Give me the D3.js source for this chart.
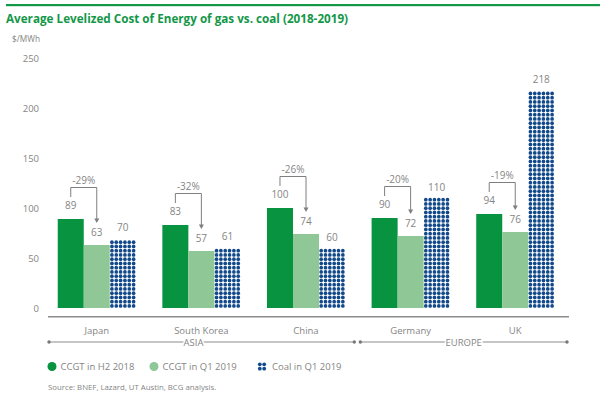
<!DOCTYPE html>
<html><head><meta charset="utf-8">
<script src="https://cdn.jsdelivr.net/npm/d3@7"></script>
<style>
body{margin:0;background:#fff;}
svg{display:block;font-family:"Open Sans",sans-serif;}
</style></head>
<body><svg id="c" width="600" height="399"></svg>
<script>
const countries = ["Japan","South Korea","China","Germany","UK"];
const series = ["CCGT in H2 2018","CCGT in Q1 2019","Coal in Q1 2019"];
const ccgtH2 = [89, 83, 100, 90, 94];
const ccgtQ1 = [63, 57, 74, 72, 76];
const coalQ1 = [70, 61, 60, 110, 218];
const changes = ["-29%","-32%","-26%","-20%","-19%"];
const yTicks = [0, 50, 100, 150, 200, 250];
const regions = [{name:"ASIA", members:["Japan","South Korea","China"]},{name:"EUROPE", members:["Germany","UK"]}];

const C = {dark:"#07933f", light:"#8fc796", navy:"#12498a", text:"#858585", title:"#139748", line:"#7f7f7f"};
const svg = d3.select("#c");

// top rule and title
svg.append("rect").attr("x",6).attr("y",4).attr("width",594).attr("height",2.2).attr("fill",C.title);
svg.append("text").attr("x",6).attr("y",23).attr("fill",C.title)
  .attr("font-size",12.6).attr("font-weight",700).attr("id","title")
  .text("Average Levelized Cost of Energy of gas vs. coal (2018-2019)");
svg.append("text").attr("x",12).attr("y",42).attr("fill",C.text).attr("font-size",8.3)
  .text("$/MWh");

const x = d3.scaleBand().domain(countries).range([48,564]).paddingInner(0.254).paddingOuter(0.093);
const xs = d3.scaleBand().domain(series).range([0, x.bandwidth()]);
const y = d3.scaleLinear().domain([0,250]).range([308,58]);

// y labels
svg.append("g").selectAll("text").data(yTicks).join("text")
  .attr("x",39).attr("y",d=>y(d)+3.5).attr("text-anchor","end")
  .attr("font-size",9.5).attr("fill",C.text).text(d=>d);

const data = countries.map((c,i)=>({c, v:[ccgtH2[i], ccgtQ1[i], coalQ1[i]], ch:changes[i]}));

const g = svg.append("g");
const grp = g.selectAll("g.grp").data(data).join("g").attr("class","grp")
  .attr("transform",d=>`translate(${x(d.c)},0)`);

grp.append("rect").attr("x",xs(series[0])).attr("width",xs.bandwidth())
  .attr("y",d=>y(d.v[0])).attr("height",d=>y(0)-y(d.v[0])).attr("fill",C.dark);
grp.append("rect").attr("x",xs(series[1])).attr("width",xs.bandwidth())
  .attr("y",d=>y(d.v[1])).attr("height",d=>y(0)-y(d.v[1])).attr("fill",C.light);

// coal dot grid
const cols = 6, rowStep = 4.25;
grp.each(function(d){
  const bx = xs(series[2]), bw = xs.bandwidth();
  const colStep = bw/cols;
  const top = y(d.v[2]);
  const dots = [];
  for (let yy = y(0) - rowStep/2; yy >= top + 1; yy -= rowStep) {
    for (let k=0;k<cols;k++) dots.push([bx + colStep*(k+0.5), yy]);
  }
  d3.select(this).append("g").selectAll("circle").data(dots).join("circle")
    .attr("cx",p=>p[0]).attr("cy",p=>p[1]).attr("r",1.85).attr("fill",C.navy);
});

// value labels
const off = [10, 9, 7];
series.forEach((s,si)=>{
  grp.append("text").attr("x",xs(s)+xs.bandwidth()/2).attr("y",d=>y(d.v[si])-off[si])
    .attr("text-anchor","middle").attr("font-size",10).attr("fill",C.text).text(d=>d.v[si]);
});

// brackets
grp.each(function(d){
  const x0 = xs(series[0])+xs.bandwidth()/2, x1 = xs(series[1])+xs.bandwidth()/2;
  const hy = y(d.v[0]) - 31.5, ly = y(d.v[0]) - 22, ty = y(d.v[1]) - 22;
  const s = d3.select(this);
  s.append("path").attr("d",`M${x0},${ly}V${hy}H${x1}V${ty-4}`)
    .attr("fill","none").attr("stroke",C.line).attr("stroke-width",1);
  s.append("path").attr("d",`M${x1-2.5},${ty-4.5}L${x1+2.5},${ty-4.5}L${x1},${ty}Z`).attr("fill",C.line);
  s.append("text").attr("x",(x0+x1)/2).attr("y",hy-4).attr("text-anchor","middle")
    .attr("font-size",10).attr("fill",C.text).text(d.ch);
});

// x axis line
svg.append("line").attr("x1",48).attr("x2",569).attr("y1",316.8).attr("y2",316.8)
  .attr("stroke","#8c8c8c").attr("stroke-width",1.5);
svg.append("g").selectAll("text").data(countries).join("text")
  .attr("x",d=>x(d)+x.bandwidth()/2).attr("y",333.5).attr("text-anchor","middle")
  .attr("font-size",9.5).attr("fill",C.text).text(d=>d);

// region lines
const mid = (x("China")+x.bandwidth()+x("Germany"))/2;
const regSpan = [[49, mid-4],[mid+2, 567]];
regions.forEach((r,i)=>{
  const [a,b] = regSpan[i];
  const gy = 342;
  svg.append("line").attr("x1",a).attr("x2",b).attr("y1",gy).attr("y2",gy).attr("stroke","#8c8c8c").attr("stroke-width",1);
  svg.append("circle").attr("cx",a).attr("cy",gy).attr("r",1.7).attr("fill","#777");
  svg.append("circle").attr("cx",b).attr("cy",gy).attr("r",1.7).attr("fill","#777");
  const cx = i===0 ? 193.5 : (a+b)/2;
  svg.append("text").attr("x",cx).attr("y",gy+3.5).attr("text-anchor","middle")
    .attr("font-size",9.5).attr("fill",C.text)
    .attr("stroke","#fff").attr("stroke-width",3).attr("paint-order","stroke").text(r.name);
});

// legend
const lg = svg.append("g").attr("transform","translate(0,366.5)");
const lx = [52, 154, 262];
lg.append("circle").attr("cx",lx[0]).attr("cy",0).attr("r",4.5).attr("fill",C.dark);
lg.append("circle").attr("cx",lx[1]).attr("cy",0).attr("r",4.5).attr("fill",C.light);
[[-2.2,-2.2],[2.2,-2.2],[-2.2,2.2],[2.2,2.2]].forEach(p=>{
  lg.append("circle").attr("cx",lx[2]+p[0]).attr("cy",p[1]).attr("r",1.9).attr("fill",C.navy);
});
series.forEach((s,i)=>{
  lg.append("text").attr("x",lx[i]+(i===2?10:8.5)).attr("y",3.3).attr("font-size",9.5).attr("fill",C.text).text(s);
});

svg.append("text").attr("x",48).attr("y",390).attr("font-size",7.8).attr("fill",C.text)
  .text("Source: BNEF, Lazard, UT Austin, BCG analysis.");

// fit title width to reference
const t = document.getElementById("title");
const w = t.getComputedTextLength();
if (w > 0) t.setAttribute("font-size", (12.6*342/w).toFixed(2));
</script></body></html>
